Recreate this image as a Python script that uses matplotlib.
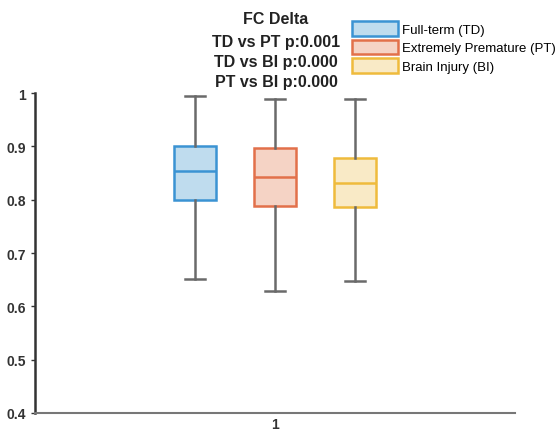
import matplotlib

matplotlib.use("Agg")
import matplotlib.pyplot as plt
from matplotlib.patches import Patch

plt.rcParams["font.family"] = ["Liberation Sans", "DejaVu Sans"]

# group names and box statistics
groups = ["Full-term (TD)", "Extremely Premature (PT)", "Brain Injury (BI)"]
whislo = [0.652, 0.628, 0.648]
q1 = [0.800, 0.789, 0.787]
med = [0.853, 0.842, 0.831]
q3 = [0.900, 0.897, 0.878]
whishi = [0.994, 0.989, 0.989]

edges = ["#3b93d3", "#e2704a", "#efbb3c"]
fills = ["#bfdcee", "#f5d3c5", "#f9eac6"]

title_lines = ["FC Delta", "TD vs PT p:0.001", "TD vs BI p:0.000", "PT vs BI p:0.000"]

fig = plt.figure(figsize=(5.58, 4.35), dpi=100)
ax = fig.add_axes([35 / 558, 21 / 435, 480 / 558, 320 / 435])

offsets = [-1 / 6, 0, 1 / 6]
for i in range(3):
    st = [{"whislo": whislo[i], "q1": q1[i], "med": med[i], "q3": q3[i],
           "whishi": whishi[i], "fliers": []}]
    ax.bxp(st, positions=[1 + offsets[i]], widths=0.0875, patch_artist=True,
           showfliers=False,
           boxprops=dict(facecolor=fills[i], edgecolor=edges[i], linewidth=1.8),
           medianprops=dict(color=edges[i], linewidth=1.8),
           whiskerprops=dict(color="#6a6a6a", linewidth=1.8),
           capprops=dict(color="#6a6a6a", linewidth=1.8),
           capwidths=0.042)

ax.set_xlim(0.5, 1.5)
ax.set_ylim(0.4, 1.0)
ax.set_xticks([1])
ax.set_xticklabels(["1"])
ax.set_yticks([0.4, 0.5, 0.6, 0.7, 0.8, 0.9, 1.0])
ax.set_yticklabels(["0.4", "0.5", "0.6", "0.7", "0.8", "0.9", "1"])
for lab in ax.get_xticklabels() + ax.get_yticklabels():
    lab.set_fontweight("bold")
    lab.set_fontsize(10)
    lab.set_color("#333333")
ax.tick_params(axis="y", length=3, width=1, direction="out", colors="#333333")
ax.tick_params(axis="x", length=0, pad=3)
ax.spines["top"].set_visible(False)
ax.spines["right"].set_visible(False)
ax.spines["left"].set_linewidth(1.8)
ax.spines["left"].set_color("#333333")
ax.spines["bottom"].set_linewidth(1.5)
ax.spines["bottom"].set_color("#777777")

ys = [19, 42, 62, 82]
for t, y in zip(title_lines, ys):
    fig.text(276 / 558, 1 - y / 435, t, ha="center", va="center",
             fontsize=11.5, fontweight="bold", color="#222222")

handles = [Patch(facecolor=fills[i], edgecolor=edges[i], linewidth=1.8) for i in range(3)]
fig.legend(handles, groups, loc="upper left", bbox_to_anchor=(352 / 558, 1 - 22 / 435),
           frameon=False, fontsize=9.5, handlelength=3.5, handleheight=1.35,
           handletextpad=0.3, labelspacing=0.28, borderaxespad=0, borderpad=0)

fig.savefig("out.png", dpi=100)
